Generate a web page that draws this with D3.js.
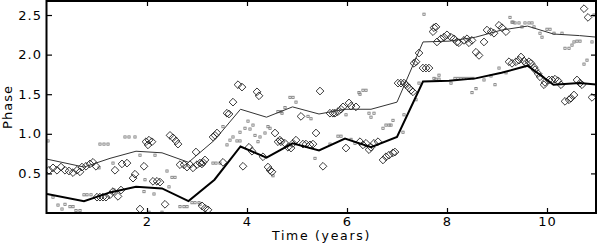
<!DOCTYPE html>
<html>
<head>
<meta charset="utf-8">
<script src="https://cdn.jsdelivr.net/npm/d3@7"></script>
<style>
  body { margin: 0; background: #fff; }
  svg text { font-family: "DejaVu Sans", sans-serif; font-size: 13px; letter-spacing: 1px; fill: #000; }
</style>
</head>
<body>
<svg id="chart" width="598" height="243"></svg>
<script>
// smoothed curves (time in years, phase)
var lineTimes  = [0, 0.74, 1.26, 1.78, 2.3, 2.83, 3.35, 3.87, 4.39, 4.91, 5.44, 5.96, 6.48, 7.0, 7.52, 8.04, 8.57, 9.09, 9.61, 10.13, 10.65, 11];
var lowerPhase = [0.24, 0.15, 0.26, 0.33, 0.31, 0.15, 0.42, 0.84, 0.70, 0.88, 0.79, 0.94, 0.83, 0.96, 1.66, 1.67, 1.70, 1.77, 1.86, 1.62, 1.64, 1.62];
var upperPhase = [0.68, 0.58, 0.69, 0.78, 0.76, 0.64, 0.92, 1.31, 1.21, 1.34, 1.25, 1.31, 1.31, 1.40, 2.16, 2.17, 2.22, 2.31, 2.36, 2.26, 2.24, 2.22];

// diamond points [time, phase]
var diamonds = [
  [0.04,0.54],[0.12,0.57],[0.20,0.54],[0.28,0.58],[0.36,0.54],[0.44,0.53],[0.52,0.51],[0.60,0.54],[0.66,0.52],
  [0.70,0.58],[0.78,0.59],[0.86,0.62],[0.92,0.64],[0.98,0.59],[1.36,0.54],[1.50,0.62],[1.60,0.63],[1.94,0.59],
  [1.76,0.49],[1.72,0.44],[1.98,0.90],[2.04,0.92],[2.10,0.90],[2.02,0.86],
  [2.46,0.98],[2.52,0.95],[2.58,0.91],[2.62,0.87],
  [2.66,0.61],[2.74,0.61],[2.80,0.58],[2.86,0.61],[2.92,0.57],[3.00,0.61],[3.06,0.63],[2.98,0.77],
  [1.00,0.20],[1.06,0.20],[1.12,0.20],[1.18,0.20],[1.26,0.23],[1.32,0.27],[1.42,0.21],[1.48,0.29],
  [1.86,0.05],[2.36,0.11],[2.12,0.40],[2.20,0.40],[2.26,0.39],
  [3.82,1.62],[3.90,1.59],[4.20,1.53],[4.24,1.48],[3.72,1.40],[3.60,1.26],[3.64,1.25],
  [3.32,0.96],[3.36,0.98],[3.40,1.01],[3.10,0.62],[3.12,0.64],[3.16,0.67],[3.52,0.64],[3.92,0.59],
  [4.04,0.83],[4.10,0.78],[4.32,0.71],[4.42,0.58],[4.46,0.54],[4.50,0.52],[4.56,1.01],[4.62,0.90],[4.66,0.92],
  [3.10,0.09],[3.16,0.06],[3.22,0.04],
  [5.46,1.54],[5.08,1.22],[5.38,1.01],[5.52,0.59],[5.98,0.82],
  [4.68,0.90],[4.76,0.88],[4.82,0.83],[4.88,0.82],[4.92,0.88],[4.98,0.92],
  [5.12,0.87],[5.18,0.87],[5.26,0.86],[5.32,0.87],
  [5.66,1.26],[5.72,1.26],[5.76,1.26],[5.82,1.28],[5.88,1.31],[5.92,1.34],[6.04,1.39],[6.08,1.35],[6.18,1.34],
  [6.26,0.90],[6.32,0.86],[6.38,0.88],[6.44,0.80],[6.48,0.83],[6.54,0.88],[6.62,0.90],
  [6.72,0.67],[6.78,0.71],[6.84,0.73],[6.92,0.76],[6.96,0.77],
  [7.02,1.64],[7.08,1.64],[7.14,1.64],[7.18,1.62],[7.24,1.58],[7.28,1.55],[7.32,1.53],
  [7.34,1.89],[7.38,1.91],[7.44,2.02],[7.52,1.83],[7.58,1.83],[7.64,1.83],
  [7.72,2.29],[7.74,2.34],[7.78,2.35],
  [7.80,2.16],[7.88,2.20],[7.94,2.22],[8.00,2.25],[8.08,2.22],[8.14,2.20],[8.20,2.16],[8.24,2.15],
  [8.34,2.18],[8.40,2.20],[8.44,2.15],[8.50,2.18],[8.58,2.03],[8.64,1.99],[8.74,2.16],
  [8.80,2.31],[8.88,2.29],[8.94,2.27],[9.04,2.37],[9.10,2.34],[9.18,2.29],
  [9.24,1.91],[9.30,1.89],[9.38,1.91],[9.44,1.93],[9.48,1.97],[9.54,1.92],[9.58,1.89],[9.64,1.91],[9.68,1.89],
  [9.74,1.84],[9.76,1.81],[9.82,1.76],[9.86,1.72],[9.94,1.62],[9.96,1.65],[10.04,1.68],[10.10,1.68],
  [10.16,1.69],[10.22,1.67],[10.28,1.62],[10.60,1.68],[10.66,1.64],[10.70,1.62],
  [10.36,1.41],[10.44,1.43],[10.48,1.45],[10.54,1.49],[10.90,1.46],[10.74,2.58],[10.82,2.47]
];

// small dots [time, phase]
var dots = [
  [0.02,0.91],[1.56,0.96],[1.64,0.96],[1.76,0.96],[1.06,0.87],[1.14,0.87],[1.22,0.87],[1.86,0.73],[2.16,0.73],
  [1.32,0.63],[1.04,0.57],[2.40,0.53],[2.50,0.45],[2.56,0.45],[1.96,0.42],[2.44,0.33],[2.14,0.24],
  [0.74,0.23],[0.80,0.23],[0.88,0.23],[1.94,0.27],[0.12,0.20],[0.22,0.10],[0.36,0.11],[0.46,0.08],[0.52,0.08],
  [0.30,0.05],[0.58,0.03],[0.66,0.03],[2.30,0.01],[2.04,0.01],[2.66,0.08],[2.74,0.08],[2.80,0.08],
  [2.90,0.13],[2.96,0.13],[3.04,0.13],[1.34,0.29],
  [4.02,1.16],[4.12,1.11],[3.96,1.07],[4.06,1.06],[4.42,1.09],[4.46,1.07],[3.86,1.02],[3.72,0.96],
  [3.66,0.92],[3.80,0.91],[3.86,0.91],[3.60,0.86],[4.26,0.96],[4.22,0.90],[4.16,0.98],[4.36,1.01],
  [3.32,0.63],[3.38,0.63],[3.46,0.63],[4.52,0.47],[3.06,0.11],[4.70,1.26],[3.52,1.09],
  [4.86,1.46],[4.92,1.46],[4.98,1.40],[5.22,1.22],[5.28,1.19],[4.76,1.33],[4.62,1.28],[4.68,1.28],
  [5.36,0.69],[5.66,0.87],[5.82,0.97],[5.88,0.97],[6.08,0.93],[6.16,0.88],[5.98,1.24],[6.26,1.50],
  [7.54,2.51],[6.32,1.55],[6.38,1.55],[6.24,1.52],[6.44,1.26],[6.54,1.26],[6.48,1.21],[6.92,1.17],
  [6.78,1.11],[6.84,1.11],[6.88,1.11],[6.72,1.07],[7.14,1.24],[7.12,1.02],[7.38,1.43],[7.44,1.64],[7.74,1.70],
  [7.84,1.74],[8.08,1.64],[8.58,1.57],[8.50,1.52],[8.74,1.68],[8.88,1.73],[8.96,1.62],[9.04,1.83],[9.18,1.77],
  [9.26,2.47],[9.32,2.41],[8.16,1.70],[8.22,1.70],[8.28,1.70],[8.34,1.70],[8.40,1.70],[8.46,1.70],[8.52,1.70],
  [7.78,1.69],[7.84,1.69],
  [9.30,2.41],[9.36,2.40],[9.44,2.40],[9.56,2.40],[9.64,2.40],[9.70,2.40],[9.50,2.35],[9.74,2.35],
  [9.86,2.27],[9.90,2.22],[10.00,2.32],[10.06,2.32],[10.14,2.27],[10.30,2.27],[10.36,2.08],[10.44,2.08],
  [10.50,2.12],[10.54,2.16],[10.60,2.17],[10.66,2.17],[10.74,1.88],[10.80,1.93],[10.90,2.16],[10.94,2.50]
];

var xTicks = [2, 4, 6, 8, 10];
var yTicks = [0.5, 1.0, 1.5, 2.0, 2.5];

var svg = d3.select("#chart");
var padL = 47, padR = 596, padT = 1, padB = 213;

var x = d3.scaleLinear().domain([0, 10.98]).range([padL, padR]);
var y = d3.scaleLinear().domain([0, 2.677]).range([padB, padT]);

svg.append("clipPath").attr("id", "clip")
  .append("rect").attr("x", padL).attr("y", padT).attr("width", padR - padL).attr("height", padB - padT);

var plot = svg.append("g").attr("clip-path", "url(#clip)");

// small dots
plot.selectAll("rect.dot").data(dots).enter().append("rect")
  .attr("class", "dot")
  .attr("x", d => x(d[0]) - 1.1).attr("y", d => y(d[1]) - 1.1)
  .attr("width", 2.2).attr("height", 2.2)
  .attr("fill", "none").attr("stroke", "#777").attr("stroke-width", 0.8);

// diamonds
var dsym = d3.symbol().type(d3.symbolDiamond2).size(38);
plot.selectAll("path.dia").data(diamonds).enter().append("path")
  .attr("class", "dia")
  .attr("d", dsym)
  .attr("transform", d => "translate(" + x(d[0]) + "," + y(d[1]) + ")")
  .attr("fill", "none").attr("stroke", "#222").attr("stroke-width", 0.9);

var line = d3.line().x(d => x(d[0])).y(d => y(d[1]));
plot.append("path")
  .datum(d3.zip(lineTimes, upperPhase))
  .attr("d", line).attr("fill", "none").attr("stroke", "#333").attr("stroke-width", 1);
plot.append("path")
  .datum(d3.zip(lineTimes, lowerPhase))
  .attr("d", line).attr("fill", "none").attr("stroke", "#000").attr("stroke-width", 2);

// axes (ticks pointing inward)
var gx = svg.append("g").attr("transform", "translate(0," + padB + ")")
  .call(d3.axisBottom(x).tickValues(xTicks).tickSizeInner(-5).tickSizeOuter(0).tickPadding(3.5).tickFormat(d3.format("d")));
var gxt = svg.append("g").attr("transform", "translate(0," + padT + ")")
  .call(d3.axisTop(x).tickValues(xTicks).tickSizeInner(-5).tickSizeOuter(0).tickFormat(""));
var gy = svg.append("g").attr("transform", "translate(" + padL + ",0)")
  .call(d3.axisLeft(y).tickValues(yTicks).tickSizeInner(-5).tickSizeOuter(0).tickPadding(5).tickFormat(d3.format(".1f")));
var gyr = svg.append("g").attr("transform", "translate(" + padR + ",0)")
  .call(d3.axisRight(y).tickValues(yTicks).tickSizeInner(-5).tickSizeOuter(0).tickFormat(""));

[gx, gxt, gy, gyr].forEach(function(g) {
  g.select(".domain").remove();
  g.selectAll("line").attr("stroke", "#000").attr("stroke-width", 1.2);
  g.selectAll("text").attr("font-family", "DejaVu Sans").attr("font-size", 13).attr("fill", "#000");
});

// frame
svg.append("rect").attr("x", padL - 0.5).attr("y", padT).attr("width", padR - padL + 0.5).attr("height", padB - padT)
  .attr("fill", "none").attr("stroke", "#000").attr("stroke-width", 2);

svg.append("text").attr("x", (padL + padR) / 2).attr("y", 240.3).attr("text-anchor", "middle")
  .style("font-size", "12.5px").style("letter-spacing", "1.7px").text("Time (years)");
svg.append("text").attr("transform", "translate(12," + ((padT + padB) / 2) + ") rotate(-90)")
  .attr("text-anchor", "middle").text("Phase");
</script>
</body>
</html>
